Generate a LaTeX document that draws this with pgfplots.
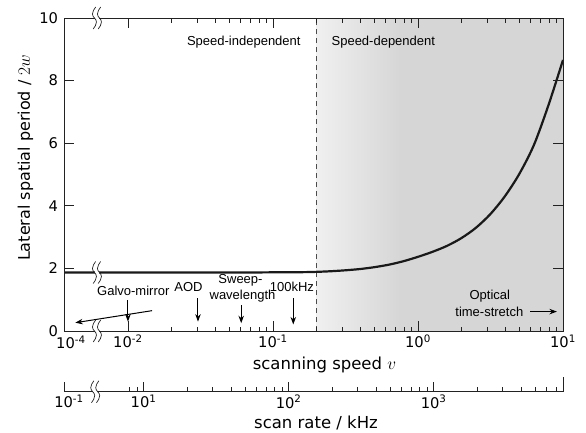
\documentclass[border=0pt]{standalone}
\usepackage{fontspec}
\setmainfont{DejaVu Sans}
\newfontfamily\annot{Liberation Sans}
\usepackage{pgfplots}
\pgfplotsset{compat=1.18}
\usetikzlibrary{arrows.meta}

\definecolor{shadeD}{HTML}{D6D6D6}
\definecolor{shadeL}{HTML}{F0F0F0}
\definecolor{axcol}{HTML}{222222}

\newcommand{\brk}[1]{%
  \fill[white] ([shift={(0.3pt,-3pt)}]#1) rectangle ([shift={(4.7pt,3pt)}]#1);
  \foreach \d in {0,5}{%
    \draw[line width=0.7pt,axcol] ([shift={(\d pt+1.2pt,11pt)}]#1)
      to[out=-120,in=90] ([shift={(\d pt-2pt,4pt)}]#1)
      to[out=-90,in=90] ([shift={(\d pt+2pt,-4pt)}]#1)
      to[out=-90,in=60] ([shift={(\d pt-1.2pt,-11pt)}]#1);}%
}

\begin{document}
\begin{tikzpicture}[x=1pt,y=1pt]
\useasboundingbox (0,0) rectangle (586,-432);
\begin{axis}[
  at={(64pt,-331pt)}, anchor=south west,
  scale only axis, width=499pt, height=313pt,
  xmin=-2.441, xmax=1, ymin=0, ymax=10,
  axis on top, clip=false,
  axis line style={axcol, line width=0.9pt},
  every tick/.style={axcol, line width=0.8pt},
  major tick length=10pt, minor tick length=4.5pt,
  xtick={-2,-1,0,1},
  xticklabels={10\textsuperscript{-2},10\textsuperscript{-1},10\textsuperscript{0},10\textsuperscript{1}},
  extra x ticks={-2.393},
  extra x tick labels={10\textsuperscript{-4}},
  extra x tick style={major tick length=0pt, xticklabel style={yshift=-1pt}},
  minor xtick={-1.69897,-1.52288,-1.39794,-1.30103,-1.22185,-1.15490,-1.09691,-1.04576,
               -0.69897,-0.52288,-0.39794,-0.30103,-0.22185,-0.15490,-0.09691,-0.04576,
               0.30103,0.47712,0.60206,0.69897,0.77815,0.84510,0.90309,0.95424},
  ytick={0,2,4,6,8,10},
  /pgf/number format/assume math mode=true,
  tick label style={font=\fontsize{14.7}{16}\selectfont},
  yticklabel style={xshift=-2.5pt},
  xlabel={scanning speed $v$},
  xlabel style={font=\fontsize{16.5}{18}\selectfont, at={(axis description cs:0.522,-0.108)}, anchor=center},
  ylabel={Lateral spatial period / $2w$},
  ylabel style={font=\fontsize{16}{18}\selectfont, at={(axis description cs:-0.077,0.553)}, anchor=center},
]
% speed-dependent shaded region
\addplot[draw=none, left color=shadeL, right color=shadeD] coordinates {(-0.699,10) (-0.12,10)} \closedcycle;
\addplot[draw=none, fill=shadeD] coordinates {(-0.125,10) (1,10)} \closedcycle;
% boundary
\addplot[dashed, dash pattern=on 5pt off 4pt, line width=0.8pt, black!70] coordinates {(-0.699,0) (-0.699,10)};
% lateral spatial period curve
\addplot[smooth, line width=2.2pt, black!90] coordinates {
  (-2.441,1.87) (-1.8,1.87) (-1.2,1.87) (-1.0,1.875) (-0.8,1.88) (-0.7,1.89) (-0.6,1.91)
  (-0.5,1.94) (-0.4,1.98) (-0.3,2.04) (-0.2,2.12) (-0.1,2.23) (0.0,2.37)
  (0.1,2.53) (0.2,2.72) (0.3,2.97) (0.4,3.30) (0.5,3.74) (0.6,4.31)
  (0.7,5.03) (0.8,5.95) (0.9,7.22) (1.0,8.66)};
% annotations
\node[font=\annot\fontsize{13}{15}\selectfont] at (axis cs:-1.201,9.23) {Speed-independent};
\node[font=\annot\fontsize{13}{15}\selectfont] at (axis cs:-0.239,9.23) {Speed-dependent};
\node[font=\annot\fontsize{13}{15}\selectfont] at (axis cs:-1.963,1.28) {Galvo-mirror};
\node[font=\annot\fontsize{13}{15}\selectfont] at (axis cs:-1.583,1.41) {AOD};
\node[font=\annot\fontsize{13}{15}\selectfont] at (axis cs:-1.224,1.61) {Sweep-};
\node[font=\annot\fontsize{13}{15}\selectfont] at (axis cs:-1.21,1.10) {wavelength};
\node[font=\annot\fontsize{13}{15}\selectfont] at (axis cs:-0.869,1.42) {100kHz};
\node[font=\annot\fontsize{13}{15}\selectfont] at (axis cs:0.495,1.12) {Optical};
\node[font=\annot\fontsize{13}{15}\selectfont] at (axis cs:0.492,0.62) {time-stretch};
\begin{scope}[-{Stealth[length=7.5pt,width=5.5pt]}, line width=1pt, black]
\draw (axis cs:-2,0.99) -- (axis cs:-2,0.30);
\draw (axis cs:-1.834,0.65) -- (axis cs:-2.363,0.265);
\draw (axis cs:-1.517,1.045) -- (axis cs:-1.517,0.30);
\draw (axis cs:-1.219,0.83) -- (axis cs:-1.219,0.25);
\draw (axis cs:-0.86,1.045) -- (axis cs:-0.86,0.21);
\draw (axis cs:0.774,0.62) -- (axis cs:0.958,0.62);
\end{scope}
\coordinate (bt) at (axis cs:-2.231,10);
\coordinate (bb) at (axis cs:-2.231,0);
\coordinate (bc) at (axis cs:-2.231,1.87);
\end{axis}

\begin{axis}[
  at={(64pt,-391.7pt)}, anchor=south west,
  scale only axis, width=499pt, height=20pt,
  xmin=0.451, xmax=3.892, ymin=0, ymax=1,
  hide y axis, axis x line*=bottom, clip=false,
  x axis line style={-, axcol, line width=0.9pt},
  every tick/.style={axcol, line width=0.8pt},
  tick align=inside, xtick pos=bottom,
  major tick length=10pt, minor tick length=5pt,
  xtick={0.451,1,2,3},
  xticklabels={,10\textsuperscript{1},10\textsuperscript{2},10\textsuperscript{3}},
  extra x ticks={0.4855},
  extra x tick labels={10\textsuperscript{-1}},
  extra x tick style={major tick length=0pt},
  minor xtick={0.90309,0.95424,
               1.30103,1.47712,1.60206,1.69897,1.77815,1.84510,1.90309,1.95424,
               2.30103,2.47712,2.60206,2.69897,2.77815,2.84510,2.90309,2.95424,
               3.30103,3.47712,3.60206,3.69897,3.77815,3.84510},
  tick label style={font=\fontsize{14.7}{16}\selectfont},
  xlabel={scan rate / kHz},
  xlabel style={font=\fontsize{16.5}{18}\selectfont, at={(axis description cs:0.505,0)}, anchor=center, yshift=-31.3pt},
]
\draw[axcol, line width=0.8pt] (axis cs:3.892,0) -- ([yshift=15pt]axis cs:3.892,0);
\coordinate (bl) at (axis cs:0.649,0);
\end{axis}
\brk{bt}
\brk{bb}
\brk{bc}
\brk{bl}
\end{tikzpicture}
\end{document}
